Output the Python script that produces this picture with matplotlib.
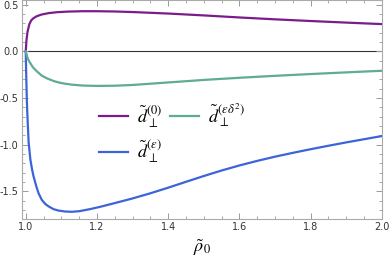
import matplotlib
matplotlib.use('Agg')
import matplotlib.pyplot as plt
from matplotlib.ticker import MultipleLocator, FormatStrFormatter

plt.rcParams['mathtext.fontset'] = 'stix'
plt.rcParams['axes.unicode_minus'] = False

# d_perp^(0)
x_d0 = [1.0, 1.002, 1.005, 1.01, 1.015, 1.02, 1.03, 1.045, 1.065, 1.09, 1.12, 1.16, 1.2,
        1.25, 1.3, 1.4, 1.5, 1.6, 1.7, 1.8, 1.9, 2.0]
y_d0 = [0.0, 0.12, 0.21, 0.29, 0.33, 0.35, 0.375, 0.395, 0.41, 0.42, 0.426, 0.43, 0.43,
        0.427, 0.421, 0.405, 0.385, 0.363, 0.343, 0.325, 0.308, 0.292]

# d_perp^(eps delta^2)
x_ded = [1.0, 1.005, 1.01, 1.02, 1.03, 1.045, 1.06, 1.08, 1.1, 1.13, 1.16, 1.2, 1.25,
         1.3, 1.4, 1.5, 1.6, 1.7, 1.8, 1.9, 2.0]
y_ded = [0.0, -0.07, -0.11, -0.17, -0.21, -0.26, -0.29, -0.32, -0.34, -0.357, -0.366,
         -0.37, -0.368, -0.36, -0.333, -0.306, -0.283, -0.262, -0.243, -0.225, -0.208]

# d_perp^(eps)
x_de = [1.0, 1.001, 1.003, 1.005, 1.008, 1.013, 1.018, 1.022, 1.03, 1.036, 1.045, 1.055,
        1.064, 1.078, 1.092, 1.11, 1.129, 1.15, 1.18, 1.21, 1.25, 1.3, 1.35, 1.4, 1.45,
        1.5, 1.55, 1.6, 1.65, 1.7, 1.75, 1.8, 1.85, 1.9, 1.95, 2.0]
y_de = [0.0, -0.2, -0.52, -0.72, -0.97, -1.16, -1.27, -1.34, -1.45, -1.52, -1.59, -1.635,
        -1.66, -1.69, -1.705, -1.715, -1.718, -1.712, -1.69, -1.664, -1.625, -1.575,
        -1.52, -1.46, -1.397, -1.335, -1.276, -1.222, -1.173, -1.128, -1.087, -1.048,
        -1.011, -0.975, -0.941, -0.907]

fig = plt.figure(figsize=(3.9, 2.7), dpi=100)
ax = fig.add_axes([0.056, 0.189, 0.923, 0.811])

ax.axhline(0, color='#333333', lw=0.8, zorder=1)
ax.plot(x_d0, y_d0, color='#7c1c8c', lw=1.6, label=r'$\tilde{d}_{\perp}^{(0)}$')
ax.plot(x_de, y_de, color='#3d63d8', lw=1.6, label=r'$\tilde{d}_{\perp}^{(\epsilon)}$')
ax.plot(x_ded, y_ded, color='#5fab94', lw=1.6, label=r'$\tilde{d}_{\perp}^{(\epsilon\delta^2)}$')

ax.set_xlim(0.989, 2.0)
ax.set_ylim(-1.795, 0.55)

ax.xaxis.set_major_locator(MultipleLocator(0.2))
ax.xaxis.set_minor_locator(MultipleLocator(0.05))
ax.yaxis.set_major_locator(MultipleLocator(0.5))
ax.yaxis.set_minor_locator(MultipleLocator(0.1))
ax.xaxis.set_major_formatter(FormatStrFormatter('%.1f'))
ax.yaxis.set_major_formatter(FormatStrFormatter('%.1f'))

for s in ax.spines.values():
    s.set_color('#aaaaaa')
    s.set_linewidth(0.8)
ax.tick_params(which='both', direction='in', top=True, right=True, color='#999999',
               labelsize=7, labelcolor='#333333')
ax.tick_params(which='major', length=4, width=0.7, pad=2.5)
ax.tick_params(which='minor', length=2.2, width=0.6)

ax.set_xlabel(r'$\tilde{\rho}_0$', fontsize=13, labelpad=4)

ax.legend(ncol=2, loc='center left', bbox_to_anchor=(0.19, 0.39), frameon=False,
          fontsize=13, handlelength=1.6, handletextpad=0.5, columnspacing=0.4,
          labelspacing=0.5, borderpad=0)

fig.savefig('out.png', dpi=100)
